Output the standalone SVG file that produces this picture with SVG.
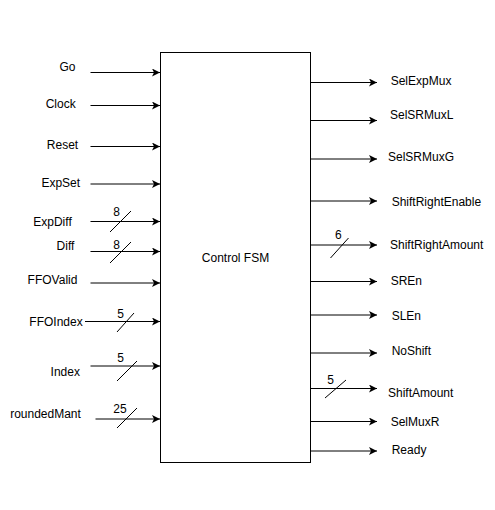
<svg xmlns="http://www.w3.org/2000/svg" width="495" height="510" viewBox="0 0 495 510">
<defs>
<marker id="arr" markerWidth="10" markerHeight="10" refX="8" refY="4" orient="auto" markerUnits="userSpaceOnUse">
<path d="M0,0 L8,4 L0,8 L2,4 Z" fill="#000"/>
</marker>
<style>
.t{font-family:"Liberation Sans",Arial,Helvetica,sans-serif;font-size:12px;fill:#000}
.m{text-anchor:middle}
.w{stroke:#000;stroke-width:1;fill:none}
.a{stroke:#000;stroke-width:1;fill:none;marker-end:url(#arr)}
</style>
</defs>
<rect width="495" height="510" fill="#fff"/>
<g id="controlFSM">
<rect x="160.5" y="52.5" width="150" height="410" fill="#fff" stroke="#000" stroke-width="1"/>
<text class="t m" x="235.5" y="261.5">Control FSM</text>
</g>
<g id="connectors">
<line class="a" x1="90.5" y1="72.5" x2="160" y2="72.5"/>
<line class="a" x1="90.5" y1="105.5" x2="160" y2="105.5"/>
<line class="a" x1="90.5" y1="146.5" x2="160" y2="146.5"/>
<line class="a" x1="90.5" y1="184" x2="160" y2="184"/>
<line class="a" x1="90.5" y1="221.5" x2="160" y2="221.5"/>
<line class="a" x1="90.5" y1="251.5" x2="160" y2="251.5"/>
<line class="a" x1="90.5" y1="283" x2="160" y2="283"/>
<line class="a" x1="85" y1="321.5" x2="160" y2="321.5"/>
<line class="a" x1="90.5" y1="366" x2="160" y2="366"/>
<line class="a" x1="95.5" y1="419" x2="160" y2="419"/>
<line class="a" x1="311" y1="82.5" x2="377" y2="82.5"/>
<line class="a" x1="311" y1="120.5" x2="377" y2="120.5"/>
<line class="a" x1="311" y1="159" x2="377" y2="159"/>
<line class="a" x1="311" y1="201" x2="377" y2="201"/>
<line class="a" x1="311" y1="245" x2="377" y2="245"/>
<line class="a" x1="311" y1="281.5" x2="377" y2="281.5"/>
<line class="a" x1="311" y1="315" x2="377" y2="315"/>
<line class="a" x1="311" y1="353" x2="377" y2="353"/>
<line class="a" x1="311" y1="388.5" x2="377" y2="388.5"/>
<line class="a" x1="311" y1="421.5" x2="377" y2="421.5"/>
<line class="a" x1="311" y1="451" x2="377" y2="451"/>
<line class="w" x1="110" y1="232" x2="131" y2="211"/>
<line class="w" x1="110" y1="263" x2="131" y2="242"/>
<line class="w" x1="117" y1="332" x2="134" y2="313"/>
<line class="w" x1="117" y1="381" x2="137" y2="361"/>
<line class="w" x1="117" y1="428" x2="137" y2="408"/>
<line class="w" x1="330.5" y1="258" x2="348.5" y2="238"/>
<line class="w" x1="325" y1="398" x2="346" y2="380"/>
</g>
<g id="inputs">
<text class="t m" x="67.5" y="71">Go</text>
<text class="t m" x="60.7" y="108">Clock</text>
<text class="t m" x="62.5" y="149">Reset</text>
<text class="t m" x="60.8" y="187">ExpSet</text>
<text class="t m" x="52.5" y="225.5">ExpDiff</text>
<text class="t m" x="65.5" y="250">Diff</text>
<text class="t m" x="52.5" y="284">FFOValid</text>
<text class="t m" x="56" y="326">FFOIndex</text>
<text class="t m" x="65.3" y="376">Index</text>
<text class="t m" x="45.5" y="417.5">roundedMant</text>
</g>
<g id="busWidths">
<text class="t m" x="116.7" y="216">8</text>
<text class="t m" x="116.7" y="249">8</text>
<text class="t m" x="120.7" y="317.5">5</text>
<text class="t m" x="120.7" y="361.5">5</text>
<text class="t m" x="120" y="412.5">25</text>
<text class="t m" x="338.3" y="239">6</text>
<text class="t m" x="330.7" y="383.5">5</text>
</g>
<g id="outputs">
<text class="t" x="390.7" y="84.7">SelExpMux</text>
<text class="t" x="390" y="119">SelSRMuxL</text>
<text class="t" x="388" y="161.3">SelSRMuxG</text>
<text class="t" x="391.7" y="205.7">ShiftRightEnable</text>
<text class="t" x="390" y="249">ShiftRightAmount</text>
<text class="t" x="390.7" y="284.7">SREn</text>
<text class="t" x="391.7" y="319.7">SLEn</text>
<text class="t" x="391.7" y="354.7">NoShift</text>
<text class="t" x="388" y="397.3">ShiftAmount</text>
<text class="t" x="390.7" y="425.7">SelMuxR</text>
<text class="t" x="391.7" y="454">Ready</text>
</g>
</svg>
